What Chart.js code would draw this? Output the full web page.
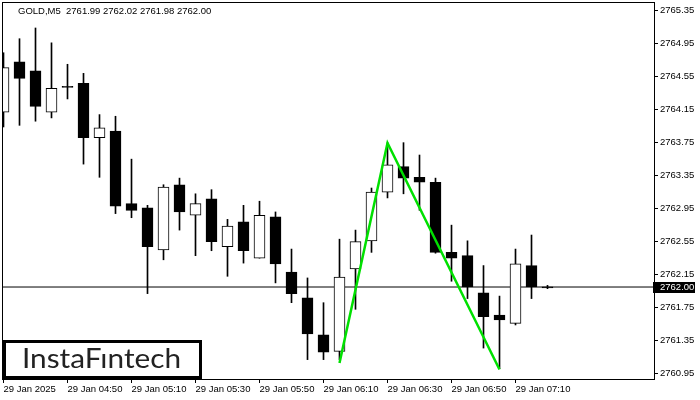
<!DOCTYPE html>
<html>
<head>
<meta charset="utf-8">
<script src="https://cdn.jsdelivr.net/npm/chart.js@4.4.1/dist/chart.umd.min.js"></script>
<style>
  html, body { margin: 0; padding: 0; background: #fff; }
</style>
</head>
<body>
<canvas id="chart" width="700" height="400"></canvas>
<script>
// === DATA (GOLD, M5) ===
const openP  = [2764.12, 2764.73, 2764.62, 2764.12, 2764.42, 2764.47, 2763.81, 2763.89, 2763.01, 2762.96,
                2762.45, 2763.24, 2762.87, 2763.07, 2762.49, 2762.79, 2762.35, 2762.85, 2762.18, 2761.87,
                2761.42, 2761.22, 2762.22, 2762.56, 2763.15, 2763.46, 2763.33, 2763.27, 2762.42, 2762.38,
                2761.93, 2761.66, 2761.56, 2762.26, 2761.99];
const highP  = [2764.84, 2765.01, 2765.14, 2764.96, 2764.70, 2764.59, 2764.09, 2764.07, 2763.55, 2762.99,
                2763.24, 2763.32, 2763.13, 2763.18, 2762.82, 2762.99, 2763.04, 2762.91, 2762.46, 2762.11,
                2761.81, 2762.58, 2762.69, 2763.20, 2763.75, 2763.75, 2763.60, 2763.32, 2762.75, 2762.56,
                2762.26, 2761.89, 2762.46, 2762.63, 2762.02];
const lowP   = [2763.94, 2763.96, 2764.01, 2764.05, 2764.28, 2763.49, 2763.33, 2762.89, 2762.84, 2761.92,
                2762.33, 2762.69, 2762.38, 2762.44, 2762.13, 2762.29, 2762.35, 2762.05, 2761.81, 2761.12,
                2761.12, 2761.12, 2761.73, 2762.42, 2763.08, 2763.13, 2762.93, 2762.41, 2762.07, 2761.86,
                2761.26, 2761.01, 2761.54, 2761.86, 2761.98];
const closeP = [2764.66, 2764.53, 2764.19, 2764.41, 2764.43, 2763.81, 2763.93, 2762.98, 2762.93, 2762.49,
                2763.21, 2762.91, 2763.01, 2762.55, 2762.74, 2762.44, 2762.87, 2762.28, 2761.92, 2761.43,
                2761.21, 2762.12, 2762.55, 2763.15, 2763.48, 2763.32, 2763.27, 2762.42, 2762.35, 2762.00,
                2761.64, 2761.60, 2762.28, 2762.00, 2762.00];

// pattern (double top) line: candle index / price
const patternIdx   = [21, 24, 31];
const patternPrice = [2761.08, 2763.745, 2761.00];

const bidPrice = 2762.00;

// axis ticks
const timeTickIdx = [0, 4, 8, 12, 16, 20, 24, 28, 32];
const timeLabels  = ['29 Jan 2025', '29 Jan 04:50', '29 Jan 05:10', '29 Jan 05:30', '29 Jan 05:50',
                     '29 Jan 06:10', '29 Jan 06:30', '29 Jan 06:50', '29 Jan 07:10'];
const priceTicks  = [2760.95, 2761.35, 2761.75, 2762.15, 2762.55, 2762.95, 2763.35, 2763.75,
                     2764.15, 2764.55, 2764.95, 2765.35];

const titleText = 'GOLD,M5  2761.99 2762.02 2761.98 2762.00';

// === BUILD DATASETS ===
const xMin = -0.09375, xMax = 40.65625;
const bodies = openP.map((o, i) => ({ x: i, y: [o, closeP[i]] }));
const wicks  = openP.map((o, i) => ({ x: i, y: [lowP[i], highP[i]] }));
const bodyColors = openP.map((o, i) =>
    (closeP[i] - o > 0.015) ? '#ffffff' : '#000000');

Chart.defaults.font.family = "'Liberation Sans', Arial, sans-serif";
Chart.defaults.font.size = 9.5;
Chart.defaults.color = '#000';

// frame, title, price tag and logo
const overlay = {
    id: 'overlay',
    afterDraw(chart) {
        const { ctx, chartArea: a } = chart;
        const y = chart.scales.y;
        ctx.save();
        ctx.strokeStyle = '#000';
        ctx.lineWidth = 1;
        ctx.strokeRect(a.left + 0.5, a.top + 0.5, a.right - a.left, a.bottom - a.top);

        ctx.font = "9.5px 'Liberation Sans', Arial, sans-serif";
        ctx.fillStyle = '#000';
        ctx.textBaseline = 'middle';
        ctx.fillText(titleText, 18, 11);

        // bid price tag
        const py = Math.round(y.getPixelForValue(bidPrice));
        ctx.fillStyle = '#000';
        ctx.fillRect(a.right - 1, py - 5, 42, 11);
        ctx.fillStyle = '#fff';
        ctx.textAlign = 'left';
        ctx.fillText(bidPrice.toFixed(2), a.right + 6, py + 0.5);

        // logo
        ctx.fillStyle = '#fff';
        ctx.fillRect(4, 341, 196, 37);
        ctx.lineWidth = 3;
        ctx.strokeStyle = '#000';
        ctx.strokeRect(4.5, 341.5, 196, 36);
        ctx.font = "27px Lato, 'Open Sans', sans-serif";
        ctx.fillStyle = '#222';
        ctx.textBaseline = 'alphabetic';
        const label = 'InstaF\u0131ntech';
        const w = ctx.measureText(label).width;
        ctx.translate(22, 368);
        ctx.scale(159 / w, 1);
        ctx.fillText(label, 0, 0);
        ctx.restore();
    }
};

new Chart(document.getElementById('chart'), {
    type: 'bar',
    data: {
        datasets: [
            {
                type: 'line',
                data: patternIdx.map((v, i) => ({ x: v, y: patternPrice[i] })),
                borderColor: '#00e000',
                borderWidth: 2.5,
                pointRadius: 0,
                tension: 0,
                order: 0
            },
            {
                data: bodies,
                backgroundColor: bodyColors,
                borderColor: '#000',
                borderWidth: 1,
                borderSkipped: false,
                barThickness: 11,
                minBarLength: 1,
                grouped: false,
                order: 1
            },
            {
                data: wicks,
                backgroundColor: '#000',
                borderWidth: 0,
                barThickness: 1,
                grouped: false,
                order: 2
            },
            {
                type: 'line',
                data: [{ x: xMin, y: bidPrice }, { x: xMax, y: bidPrice }],
                borderColor: '#000',
                borderWidth: 1,
                pointRadius: 0,
                order: 3
            }
        ]
    },
    options: {
        responsive: false,
        animation: false,
        layout: { padding: { left: 2, top: 2, right: 0, bottom: 0 } },
        plugins: { legend: { display: false }, tooltip: { enabled: false } },
        scales: {
            x: {
                type: 'linear',
                min: xMin,
                max: xMax,
                offset: false,
                grid: { display: true, drawOnChartArea: false, offset: false, tickLength: 4, color: '#000' },
                border: { display: true, color: '#000' },
                afterBuildTicks: (scale) => { scale.ticks = timeTickIdx.map(v => ({ value: v })); },
                afterFit: (scale) => {
                    scale.height = 21;
                    scale.paddingLeft = 0; scale.paddingRight = 0;
                },
                ticks: {
                    autoSkip: false,
                    maxRotation: 0,
                    align: 'start',
                    padding: 1,
                    callback: (v) => timeLabels[timeTickIdx.indexOf(v)]
                }
            },
            y: {
                position: 'right',
                min: 2760.885,
                max: 2765.455,
                beginAtZero: false,
                grid: { display: true, drawOnChartArea: false, tickLength: 4, color: '#000' },
                border: { display: true, color: '#000' },
                afterBuildTicks: (scale) => { scale.ticks = priceTicks.map(v => ({ value: v })); },
                afterFit: (scale) => {
                    scale.width = 46;
                    scale.paddingTop = 0; scale.paddingBottom = 0;
                },
                ticks: {
                    padding: 2,
                    callback: (v) => Number(v).toFixed(2)
                }
            }
        }
    },
    plugins: [overlay]
});
</script>
</body>
</html>
